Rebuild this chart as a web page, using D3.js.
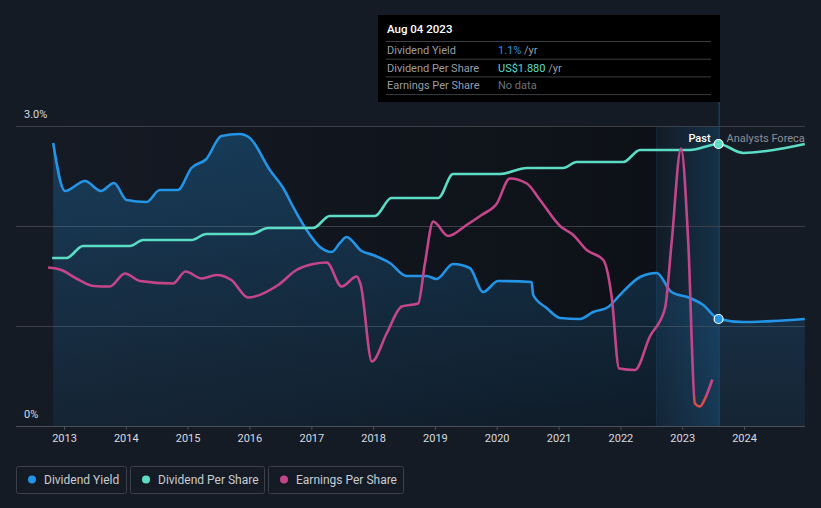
<!DOCTYPE html>
<html><head><meta charset="utf-8">
<script src="https://cdn.jsdelivr.net/npm/d3@7/dist/d3.min.js"></script>
<style>
html,body{margin:0;padding:0;background:#151b25;}
svg{display:block;font-family:Roboto,"Noto Sans",sans-serif;}
</style></head>
<body><svg id="c" width="821" height="508"></svg>
<script>
// ---- data ----
const yieldDates = ["2012-10-29","2013-01-07","2013-05-05","2013-08-07","2013-10-23","2014-01-06","2014-05-04","2014-07-21","2014-11-04","2015-01-24","2015-04-22","2015-07-20","2015-11-05","2016-01-04","2016-05-01","2016-07-19","2016-09-16","2016-12-04","2017-02-21","2017-05-01","2017-06-19","2017-07-28","2017-10-25","2018-01-01","2018-04-10","2018-07-17","2018-11-13","2019-01-11","2019-04-18","2019-07-26","2019-10-13","2020-01-10","2020-07-25","2020-08-04","2020-10-22","2021-01-09","2021-05-07","2021-07-24","2021-10-21","2021-12-29","2022-04-27","2022-08-03","2022-10-30","2023-02-15","2023-05-05","2023-08-04","2023-12-28","2024-06-23","2024-12-25"];
const yieldValues = [2.83,2.35,2.45,2.35,2.43,2.26,2.24,2.36,2.36,2.58,2.67,2.90,2.92,2.88,2.56,2.38,2.19,1.96,1.79,1.74,1.83,1.89,1.75,1.71,1.63,1.50,1.50,1.47,1.62,1.58,1.34,1.45,1.44,1.31,1.18,1.08,1.07,1.14,1.19,1.31,1.49,1.53,1.34,1.28,1.21,1.07,1.04,1.05,1.07];

const dpsDates = ["2012-10-23","2013-01-16","2013-04-23","2014-01-25","2014-04-14","2015-01-24","2015-04-22","2016-01-14","2016-04-20","2017-01-12","2017-04-20","2018-01-12","2018-04-19","2019-01-21","2019-04-18","2020-01-20","2020-06-27","2021-01-28","2021-04-17","2022-01-18","2022-04-27","2023-02-15","2023-08-04","2023-12-28","2024-06-23","2024-12-25"];
const dpsValues = [1.12,1.12,1.20,1.20,1.24,1.24,1.28,1.28,1.32,1.32,1.40,1.40,1.52,1.52,1.68,1.68,1.72,1.72,1.76,1.76,1.84,1.84,1.88,1.82,1.84,1.88];

const epsDates = ["2012-09-29","2012-12-17","2013-03-15","2013-06-23","2013-09-28","2013-12-27","2014-03-26","2014-10-07","2014-12-20","2015-03-25","2015-06-21","2015-09-17","2015-12-24","2016-06-19","2016-10-05","2017-01-12","2017-04-02","2017-06-29","2017-09-26","2017-10-20","2017-12-25","2018-03-22","2018-06-19","2018-09-24","2018-11-03","2018-12-22","2019-03-20","2019-07-07","2019-10-04","2019-12-31","2020-03-19","2020-06-27","2020-09-13","2021-01-09","2021-03-28","2021-06-16","2021-09-22","2021-11-10","2021-12-24","2022-03-28","2022-06-24","2022-09-21","2022-10-30","2022-12-25","2023-02-06","2023-03-17","2023-04-16","2023-05-16","2023-06-28"];
const epsValues = [3.17,3.12,2.95,2.80,2.79,3.05,2.90,2.85,3.09,2.95,3.02,2.92,2.57,2.82,3.12,3.24,3.27,2.79,2.99,2.82,1.29,1.85,2.39,2.45,3.25,4.09,3.80,4.02,4.22,4.44,4.95,4.85,4.52,4.00,3.82,3.52,3.32,2.59,1.15,1.12,1.79,2.35,3.65,5.55,3.65,0.45,0.39,0.55,0.93];

const yearTicks = [2013,2014,2015,2016,2017,2018,2019,2020,2021,2022,2023,2024];
const yieldTicks = [0,1,2,3];
const legendItems = ["Dividend Yield","Dividend Per Share","Earnings Per Share"];
const tooltipDate = "Aug 04 2023";
const tooltipRows = [["Dividend Yield","1.1%"," /yr"],["Dividend Per Share","US$1.880"," /yr"],["Earnings Per Share","No data",""]];
const nowDate = "2023-08-04";
const bandStart = "2022-08-03";

// ---- setup ----
const parse = d3.timeParse("%Y-%m-%d");
const svg = d3.select("#c");
const W = 821, H = 508;
const pL = 16, pR = 805, pT = 126, pB = 426;
const colBlue = "#2394e6", colTeal = "#5cdcc5", colMag = "#c4458a", colRed = "#dc4c4c";

const x = d3.scaleTime().domain([new Date(2013,0,1), new Date(2024,0,1)]).range([64, 744]);
const yY = d3.scaleLinear().domain([0,3]).range([pB, pT]);
const yD = d3.scaleLinear().domain([0,2]).range([pB, pT]);
const yE = d3.scaleLinear().domain([0,6]).range([pB, pT]);

const yieldData = yieldDates.map((d,i)=>({d:parse(d), v:yieldValues[i]}));
const dpsData = dpsDates.map((d,i)=>({d:parse(d), v:dpsValues[i]}));
const epsData = epsDates.map((d,i)=>({d:parse(d), v:epsValues[i]}));
const nowX = x(parse(nowDate)), bandX = x(parse(bandStart));

const defs = svg.append("defs");
const gPast = defs.append("linearGradient").attr("id","past").attr("x1",0).attr("x2",1).attr("y1",0).attr("y2",0);
gPast.append("stop").attr("offset","0%").attr("stop-color","#000").attr("stop-opacity",0);
gPast.append("stop").attr("offset","100%").attr("stop-color","#000").attr("stop-opacity",0.38);
const gBand = defs.append("linearGradient").attr("id","band").attr("x1",0).attr("x2",1).attr("y1",0).attr("y2",0);
gBand.append("stop").attr("offset","0%").attr("stop-color","#2394e6").attr("stop-opacity",0.04);
gBand.append("stop").attr("offset","100%").attr("stop-color","#2394e6").attr("stop-opacity",0.2);
const gArea = defs.append("linearGradient").attr("id","area").attr("x1",0).attr("x2",0).attr("y1",0).attr("y2",1);
gArea.append("stop").attr("offset","0%").attr("stop-color","#2394e6").attr("stop-opacity",0.28);
gArea.append("stop").attr("offset","100%").attr("stop-color","#2394e6").attr("stop-opacity",0.08);
const gEps = defs.append("linearGradient").attr("id","eps").attr("gradientUnits","userSpaceOnUse")
  .attr("x1",0).attr("x2",0).attr("y1",pT).attr("y2",pB);
const cut = (396-pT)/(pB-pT);
gEps.append("stop").attr("offset",0).attr("stop-color",colMag);
gEps.append("stop").attr("offset",cut).attr("stop-color",colMag);
gEps.append("stop").attr("offset",cut).attr("stop-color",colRed);
gEps.append("stop").attr("offset",1).attr("stop-color",colRed);
defs.append("clipPath").attr("id","clipR").append("rect").attr("x",0).attr("y",0).attr("width",pR).attr("height",H);

// past darkening and band
svg.append("rect").attr("x",pL).attr("y",pT).attr("width",bandX-pL).attr("height",pB-pT).attr("fill","url(#past)");
svg.append("rect").attr("x",bandX).attr("y",pT).attr("width",nowX-bandX).attr("height",pB-pT).attr("fill","#0d1015").attr("opacity",0.35);
svg.append("rect").attr("x",bandX).attr("y",pT).attr("width",nowX-bandX).attr("height",pB-pT).attr("fill","url(#band)");
svg.append("line").attr("x1",bandX).attr("x2",bandX).attr("y1",pT).attr("y2",pB).attr("stroke","#1f3a55").attr("stroke-width",1).attr("opacity",0.5);

// gridlines
svg.append("g").selectAll("line").data(yieldTicks.slice(1)).join("line")
  .attr("x1",pL).attr("x2",pR).attr("y1",d=>yY(d)+0.5).attr("y2",d=>yY(d)+0.5)
  .attr("stroke","#3a3f48").attr("stroke-width",1);

// area + lines
const curve = d3.curveMonotoneX;
svg.append("path").datum(yieldData)
  .attr("d", d3.area().x(d=>x(d.d)).y0(pB).y1(d=>yY(d.v)).curve(curve))
  .attr("fill","url(#area)");

// now line
svg.append("line").attr("x1",nowX+0.5).attr("x2",nowX+0.5).attr("y1",100).attr("y2",pB)
  .attr("stroke","#1e4f7a").attr("stroke-width",1);

svg.append("path").datum(yieldData)
  .attr("d", d3.line().x(d=>x(d.d)).y(d=>yY(d.v)).curve(curve))
  .attr("fill","none").attr("stroke",colBlue).attr("stroke-width",2.6).attr("stroke-linejoin","round");
svg.append("path").datum(dpsData)
  .attr("d", d3.line().x(d=>x(d.d)).y(d=>yD(d.v)).curve(curve))
  .attr("fill","none").attr("stroke",colTeal).attr("stroke-width",2.6).attr("stroke-linejoin","round");
svg.append("path").datum(epsData)
  .attr("d", d3.line().x(d=>x(d.d)).y(d=>yE(d.v)).curve(curve))
  .attr("fill","none").attr("stroke","url(#eps)").attr("stroke-width",2.6).attr("stroke-linejoin","round");

// axis
svg.append("line").attr("x1",pL).attr("x2",pR).attr("y1",pB+0.5).attr("y2",pB+0.5).attr("stroke","#4a4f58");
const xAxis = d3.axisBottom(x).tickValues(yearTicks.map(y=>new Date(y,0,1))).tickFormat(d3.timeFormat("%Y")).tickSize(4).tickPadding(4);
const axg = svg.append("g").attr("transform",`translate(0,${pB})`).call(xAxis);
axg.select(".domain").remove();
axg.selectAll(".tick line").attr("stroke","#4a4f58");
axg.selectAll(".tick text").attr("fill","#d8dbe0").attr("font-size",11).attr("font-family","Roboto,sans-serif");

// y labels
svg.append("g").selectAll("text").data([3,0]).join("text")
  .attr("x",24).attr("y",d=>yY(d)-8).attr("fill","#d8dbe0").attr("font-size",11)
  .text(d=>d===0?"0%":d.toFixed(1)+"%");

// markers
const dpsNow = dpsData.find(d=>+d.d===+parse(nowDate));
const yNow = yieldData.find(d=>+d.d===+parse(nowDate));
svg.append("circle").attr("cx",x(dpsNow.d)).attr("cy",yD(dpsNow.v)).attr("r",4.5).attr("fill",colTeal).attr("stroke","#fff").attr("stroke-width",1.2);
svg.append("circle").attr("cx",x(yNow.d)).attr("cy",yY(yNow.v)).attr("r",4.5).attr("fill",colBlue).attr("stroke","#fff").attr("stroke-width",1.2);

// Past / forecast labels
svg.append("text").attr("x",nowX-8).attr("y",142).attr("text-anchor","end").attr("fill","#ffffff").attr("font-size",11).attr("font-weight",500).text("Past");
svg.append("text").attr("x",nowX+8).attr("y",142).attr("fill","#8b9099").attr("font-size",11).attr("clip-path","url(#clipR)").text("Analysts Forecasts");

// tooltip
const tt = svg.append("g").attr("transform","translate(378,15)");
tt.append("rect").attr("width",342).attr("height",87).attr("fill","#000");
tt.append("text").attr("x",9).attr("y",18).attr("fill","#fff").attr("font-size",11.5).attr("font-weight",500).text(tooltipDate);
tooltipRows.forEach((r,i)=>{
  const yy = 26 + i*17.7;
  tt.append("line").attr("x1",8).attr("x2",333).attr("y1",yy+0.5).attr("y2",yy+0.5).attr("stroke","#3a3d42");
  tt.append("text").attr("x",9).attr("y",yy+13).attr("fill","#9a9ea6").attr("font-size",11).text(r[0]);
  const t = tt.append("text").attr("x",120).attr("y",yy+13).attr("font-size",11);
  t.append("tspan").attr("fill", i===0?colBlue:(i===1?colTeal:"#6e737a")).text(r[1]);
  t.append("tspan").attr("fill","#9a9ea6").text(r[2]);
});
tt.append("line").attr("x1",8).attr("x2",333).attr("y1",26+3*17.7+0.5).attr("y2",26+3*17.7+0.5).attr("stroke","#3a3d42");

// legend
const legColors = [colBlue, colTeal, colMag];
const legX = [16,130,268], legW = [110,134,135];
const lg = svg.append("g");
legendItems.forEach((name,i)=>{
  const g = lg.append("g").attr("transform",`translate(${legX[i]},466)`);
  g.append("rect").attr("x",0.5).attr("y",0.5).attr("width",legW[i]).attr("height",27).attr("rx",2).attr("fill","none").attr("stroke","#3b404a");
  g.append("circle").attr("cx",16).attr("cy",13.5).attr("r",4).attr("fill",legColors[i]);
  g.append("text").attr("x",28).attr("y",17.5).attr("fill","#c9ccd1").attr("font-size",12).text(name);
});
</script></body></html>
